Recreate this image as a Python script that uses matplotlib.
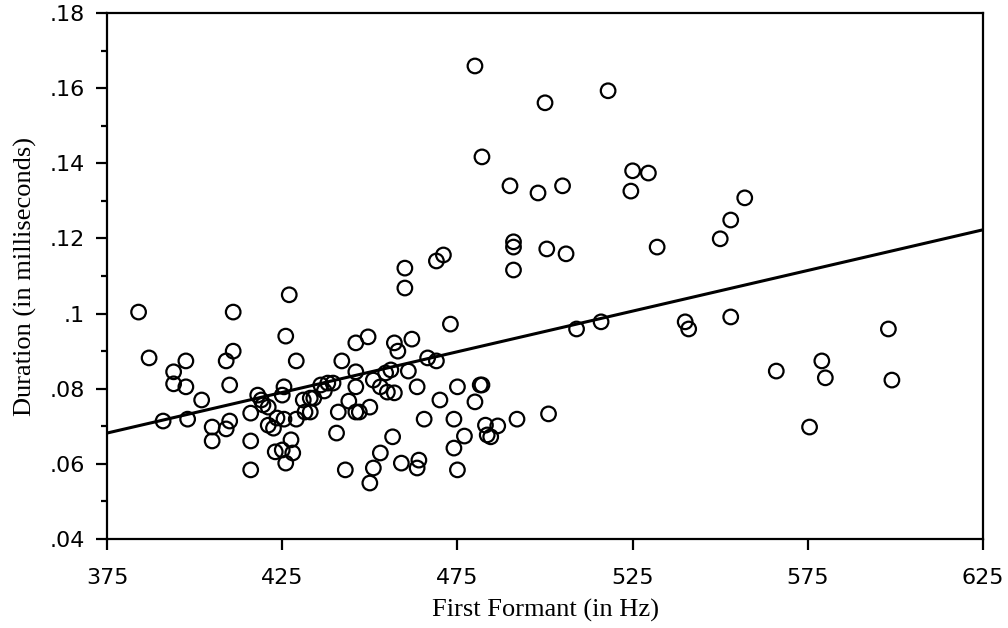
import matplotlib
matplotlib.use('Agg')
import matplotlib.pyplot as plt
from matplotlib.ticker import FixedLocator

# first formant (Hz) and vowel duration for each token
formant = [384, 387, 391, 394, 394, 397.5, 397.5, 398, 402, 405,
           405, 409, 410, 410, 409, 411, 411, 416, 416, 416,
           418, 419, 419.5, 421, 421, 422.5, 423.5, 423, 425, 425.5,
           425, 425.5, 426, 426, 427, 427.5, 428, 429, 429, 431,
           431.5, 433, 433, 434, 436, 437, 438, 439.5, 440.5, 441,
           442, 443, 444, 446, 446, 446, 446, 447, 449.5, 450,
           450, 451, 451, 453, 453, 454.5, 455, 456, 456.5, 457,
           457, 458, 459, 460, 460, 461, 462, 463.5, 464, 463.5,
           465.5, 466.5, 469, 470, 469, 471, 473, 474, 474, 475,
           475, 477, 480, 480, 481.5, 482, 482, 483, 483.5, 484.5,
           486.5, 490, 491, 491, 491, 492, 498, 500, 500.5, 501,
           505, 506, 509, 516, 518, 524.5, 525, 529.5, 532, 540,
           541, 550, 553, 553, 557, 566, 575.5, 579, 580, 598,
           599]
duration = [.1004, .0882, .0714, .0845, .0813, .0874, .0805, .0719, .0770, .0698,
            .0661, .0874, .0810, .0714, .0693, .1004, .0900, .0735, .0661, .0584,
            .0783, .0770, .0757, .0751, .0703, .0695, .0722, .0632, .0637, .0805,
            .0783, .0719, .0602, .0940, .1050, .0664, .0629, .0719, .0874, .0770,
            .0738, .0775, .0738, .0775, .0810, .0794, .0815, .0815, .0682, .0738,
            .0874, .0584, .0767, .0738, .0845, .0805, .0922, .0738, .0938, .0751,
            .0549, .0589, .0823, .0805, .0629, .0842, .0791, .0850, .0672, .0922,
            .0789, .0900, .0602, .1068, .1121, .0847, .0932, .0805, .0610, .0589,
            .0719, .0882, .0874, .0770, .1140, .1156, .0972, .0719, .0642, .0584,
            .0805, .0674, .0765, .1659, .0810, .0810, .1417, .0703, .0677, .0672,
            .0701, .1340, .1191, .1177, .1116, .0719, .1321, .1561, .1172, .0733,
            .1340, .1159, .0959, .0978, .1593, .1326, .1380, .1374, .1177, .0978,
            .0959, .1199, .0991, .1249, .1308, .0847, .0698, .0874, .0829, .0959,
            .0823]

# regression line end points
fit_x = [375, 625]
fit_y = [.0682, .1223]

x_ticks = [375, 425, 475, 525, 575, 625]
y_ticks = [.04, .06, .08, .1, .12, .14, .16, .18]
y_tick_labels = ['.04', '.06', '.08', '.1', '.12', '.14', '.16', '.18']
y_minor = [.05, .07, .09, .11, .13, .15, .17]

fig = plt.figure(figsize=(10.08, 6.28), dpi=100)
ax = fig.add_axes([0.1062, 0.1417, 0.869, 0.8376])

ax.scatter(formant, duration, s=110, facecolors='none', edgecolors='black',
           linewidths=1.6, zorder=3, clip_on=False)
ax.plot(fit_x, fit_y, color='black', linewidth=2.2, zorder=2)

ax.set_xlim(375, 625)
ax.set_ylim(.04, .18)
ax.set_xticks(x_ticks)
ax.set_xticklabels([str(t) for t in x_ticks])
ax.set_yticks(y_ticks)
ax.set_yticklabels(y_tick_labels)
ax.yaxis.set_minor_locator(FixedLocator(y_minor))

for sp in ax.spines.values():
    sp.set_linewidth(1.6)

ax.tick_params(axis='both', which='major', direction='out', length=8, width=1.6,
               labelsize=16, top=False, right=False)
ax.tick_params(axis='x', which='major', pad=13)
ax.tick_params(axis='y', which='major', pad=8)
ax.tick_params(axis='y', which='minor', direction='out', length=4, width=1.6)
for lab in ax.get_xticklabels() + ax.get_yticklabels():
    lab.set_fontfamily('DejaVu Sans')

ax.set_xlabel('First Formant (in Hz)', fontsize=19, family='Liberation Serif', labelpad=8)
ax.set_ylabel('Duration (in milliseconds)', fontsize=19, family='Liberation Serif', labelpad=9)

fig.savefig('out.png', dpi=100)
